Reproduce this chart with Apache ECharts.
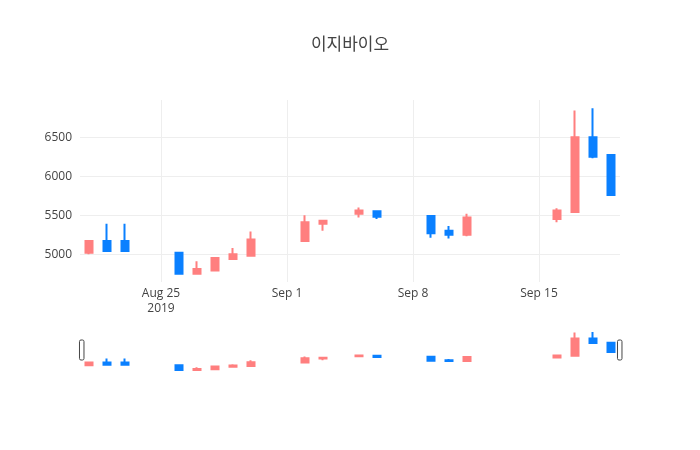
<!DOCTYPE html>
<html>
<head>
<meta charset="utf-8">
<script src="https://cdn.jsdelivr.net/npm/echarts@6/dist/echarts.min.js"></script>
<style>
html,body{margin:0;padding:0;background:#fff;}
#chart{width:700px;height:450px;}
</style>
</head>
<body>
<div id="chart"></div>
<script>
// ---- data ----
const dates  = ['2019-08-21','2019-08-22','2019-08-23','2019-08-26','2019-08-27','2019-08-28','2019-08-29','2019-08-30','2019-09-02','2019-09-03','2019-09-05','2019-09-06','2019-09-09','2019-09-10','2019-09-11','2019-09-16','2019-09-17','2019-09-18','2019-09-19'];
const openP  = [5020,5170,5170,5020,4750,4790,4940,4980,5170,5390,5520,5550,5490,5300,5250,5450,5540,6500,6270];
const closeP = [5170,5040,5040,4750,4810,4950,5000,5190,5410,5430,5560,5480,5270,5250,5470,5560,6500,6250,5760];
const lowP   = [5000,5040,5040,4750,4750,4790,4930,4980,5170,5300,5470,5450,5210,5200,5230,5410,5540,6230,5750];
const highP  = [5170,5390,5390,5020,4910,4950,5080,5290,5500,5430,5600,5550,5490,5360,5520,5590,6840,6870,6270];
const yTicks = [5000,5500,6000,6500];
const xTickDates  = ['2019-08-25','2019-09-01','2019-09-08','2019-09-15'];
const xTickLabels = ['Aug 25\n2019','Sep 1','Sep 8','Sep 15'];
const titleText = '이지바이오';

// ---- helpers ----
const DAY = 86400000;
const ts = s => { const p = s.split('-').map(Number); return Date.UTC(p[0], p[1]-1, p[2]); };
const candleData = dates.map((d, i) => [ts(d), openP[i], closeP[i], lowP[i], highP[i]]);
const lo = Math.min(...lowP), hi = Math.max(...highP);
const pad = (hi - lo) * 0.05;
const yMin = lo - pad, yMax = hi + pad;
const xMin = ts(dates[0]) - DAY / 2, xMax = ts(dates[dates.length - 1]) + DAY / 2;
const xTickVals = xTickDates.map(ts);
const labelMap = {};
xTickVals.forEach((v, i) => { labelMap[v] = xTickLabels[i]; });

const UP = '#ff7f7f', DOWN = '#0a80ff';
const FONT = "'Open Sans', 'Noto Sans CJK KR', sans-serif";
const candleStyle = { color: UP, color0: DOWN, borderColor: UP, borderColor0: DOWN, borderWidth: 2 };

const chart = echarts.init(document.getElementById('chart'), null, { renderer: 'canvas' });
chart.setOption({
  animation: false,
  backgroundColor: '#fff',
  title: {
    text: titleText, left: 'center', top: 30,
    textStyle: { fontSize: 17, fontWeight: 'normal', color: '#444', fontFamily: "'Noto Sans CJK KR', sans-serif" }
  },
  grid: [
    { left: 80, right: 80, top: 100, height: 182 },
    { left: 80, right: 80, top: 330, height: 42 }
  ],
  xAxis: [
    {
      type: 'value', gridIndex: 0, min: xMin, max: xMax,
      axisLine: { show: false }, axisTick: { show: false, customValues: xTickVals },
      splitLine: { show: true, lineStyle: { color: '#eee', width: 1 } },
      axisLabel: {
        customValues: xTickVals, color: '#444', fontSize: 12, fontFamily: FONT,
        margin: 4, lineHeight: 15, hideOverlap: false,
        formatter: v => labelMap[v] || ''
      }
    },
    {
      type: 'value', gridIndex: 1, min: xMin, max: xMax,
      axisLine: { show: false }, axisTick: { show: false }, axisLabel: { show: false }, splitLine: { show: false }
    }
  ],
  yAxis: [
    {
      type: 'value', gridIndex: 0, min: yMin, max: yMax, scale: true,
      axisLine: { show: false }, axisTick: { show: false, customValues: yTicks },
      splitLine: { show: true, lineStyle: { color: '#eee', width: 1 } },
      axisLabel: { customValues: yTicks, color: '#444', fontSize: 12, fontFamily: FONT, margin: 8,
        formatter: v => String(Math.round(v)) }
    },
    {
      type: 'value', gridIndex: 1, min: yMin, max: yMax, scale: true,
      axisLine: { show: false }, axisTick: { show: false }, axisLabel: { show: false }, splitLine: { show: false }
    }
  ],
  dataZoom: [
    {
      type: 'slider', xAxisIndex: 1, filterMode: 'none', start: 0, end: 100,
      left: 80, right: 80, top: 340, height: 20,
      showDetail: false, showDataShadow: false, brushSelect: false,
      backgroundColor: 'rgba(0,0,0,0)', fillerColor: 'rgba(0,0,0,0)', borderColor: 'rgba(0,0,0,0)',
      moveHandleSize: 0,
      handleIcon: 'path://M1.5,0 H3 A1.5,1.5 0 0 1 4.5,1.5 V18.5 A1.5,1.5 0 0 1 3,20 H1.5 A1.5,1.5 0 0 1 0,18.5 V1.5 A1.5,1.5 0 0 1 1.5,0 Z',
      handleSize: '100%',
      handleStyle: { color: '#fff', borderColor: '#444', borderWidth: 1 }
    }
  ],
  series: [
    {
      type: 'candlestick', xAxisIndex: 0, yAxisIndex: 0,
      data: candleData, encode: { x: 0, y: [1, 2, 3, 4] },
      barWidth: 8, itemStyle: candleStyle
    },
    {
      type: 'candlestick', xAxisIndex: 1, yAxisIndex: 1,
      data: candleData, encode: { x: 0, y: [1, 2, 3, 4] },
      barWidth: 8, itemStyle: candleStyle, silent: true
    }
  ]
});
</script>
</body>
</html>
